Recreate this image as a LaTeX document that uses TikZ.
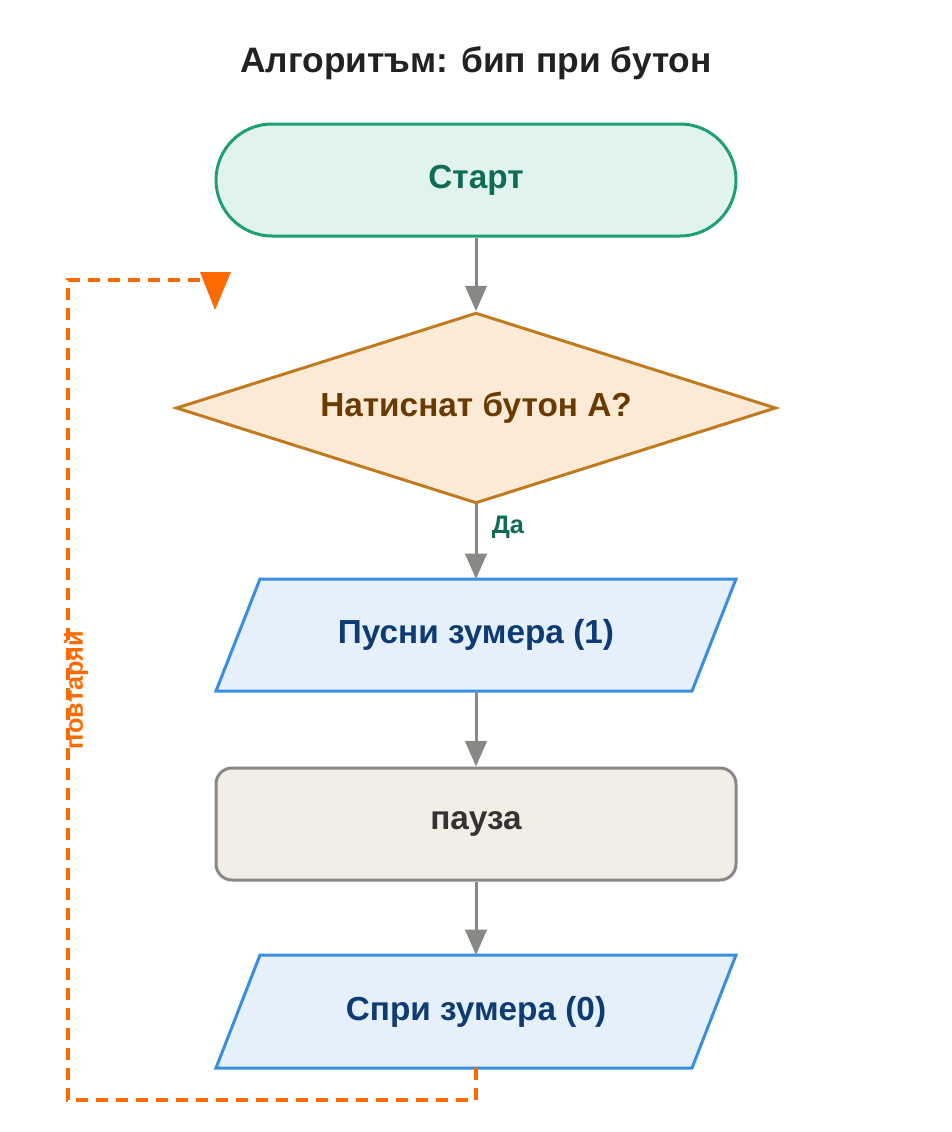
\documentclass[tikz,border=0pt]{standalone}
\usepackage{fontspec}
\setmainfont{Liberation Sans}
\usetikzlibrary{arrows.meta,shapes.geometric}
\definecolor{startf}{HTML}{E0F3EC}\definecolor{startd}{HTML}{1E9E77}\definecolor{startt}{HTML}{0E6B55}
\definecolor{decf}{HTML}{FBEBD6}\definecolor{decd}{HTML}{C07A1F}\definecolor{dect}{HTML}{6B3A00}
\definecolor{iof}{HTML}{E6F0FB}\definecolor{iod}{HTML}{3A8EE0}\definecolor{iot}{HTML}{0D3B73}
\definecolor{prf}{HTML}{F2EEE6}\definecolor{prd}{HTML}{888884}\definecolor{prt}{HTML}{333333}
\definecolor{titc}{HTML}{222222}
\definecolor{loopc}{HTML}{FF6A00}\definecolor{arr}{HTML}{888884}
\begin{document}
\begin{tikzpicture}[x=0.75pt,y=-0.75pt,
  lbl/.style={font=\bfseries\fontsize{25}{30}\selectfont},
  flow/.style={draw=arr,line width=2.25pt,-{Triangle[length=19pt,width=16pt]}},
  io/.style={draw=iod,fill=iof,line width=2.25pt}]
\useasboundingbox (0,0) rectangle (952,1132);
\node[font=\bfseries\fontsize{26.5}{30}\selectfont,text=titc] (title) at (476,63) {Алгоритъм: бип при бутон};
\node[lbl,text=startt,draw=startd,fill=startf,line width=2.25pt,rounded corners=42pt,minimum width=390pt,minimum height=84pt] (start) at (476,180) {Старт};
\node[lbl,text=dect,draw=decd,fill=decf,line width=2.25pt,diamond,aspect=3.14,minimum width=450pt,minimum height=143pt,inner sep=0pt] (dec) at (476,408) {Натиснат бутон А?};
\draw[io] (260,579) -- (736,579) -- (692,691) -- (216,691) -- cycle;
\node[lbl,text=iot] (on) at (476,635) {Пусни зумера (1)};
\node[lbl,text=prt,draw=prd,fill=prf,line width=2.25pt,rounded corners=12pt,minimum width=390pt,minimum height=84pt] (pause) at (476,824) {пауза};
\draw[io] (260,955) -- (736,955) -- (692,1068) -- (216,1068) -- cycle;
\node[lbl,text=iot] (off) at (476,1012) {Спри зумера (0)};
\coordinate (onTop) at (476,579);
\coordinate (onBot) at (476,691);
\coordinate (offTop) at (476,955);
\coordinate (offBot) at (476,1068);
\coordinate (decBot) at (476,503);
\draw[flow] (start.south) -- (dec.north);
\draw[flow] (decBot) -- (onTop);
\node[font=\bfseries\fontsize{19}{22}\selectfont,text=startt] (yes) at (508,527) {Да};
\draw[flow] (onBot) -- (pause.north);
\draw[flow] (pause.south) -- (offTop);
\coordinate (l1) at (476,1100);\coordinate (l2) at (68,1100);\coordinate (l3) at (68,280);\coordinate (l4) at (215,280);
\draw[loopc,line width=3pt,dash pattern=on 9pt off 6pt] (offBot) -- (l1) -- (l2) -- (l3) -- (l4);
\fill[loopc] (200,272) -- (231,272) -- (215,310) -- cycle;
\node[font=\bfseries\fontsize{19}{22}\selectfont,text=loopc,rotate=90] (rep) at (76,690) {повтаряй};
\end{tikzpicture}
\end{document}
